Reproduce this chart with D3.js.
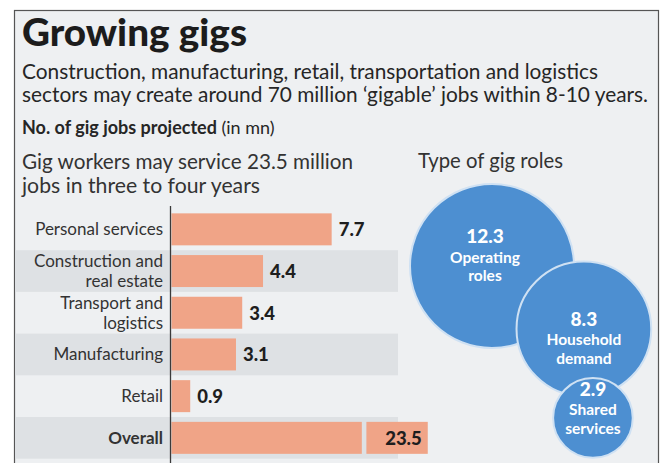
<!DOCTYPE html>
<html>
<head>
<meta charset="utf-8">
<script src="https://cdn.jsdelivr.net/npm/d3@7"></script>
<style>
  body { margin: 0; background: #fff; }
  svg { display: block; font-family: 'Lato', 'Open Sans', sans-serif; }
</style>
</head>
<body>
<svg width="663" height="463"></svg>
<script>
// bar chart data (mn jobs)
const categories = ['Personal services', 'Construction and real estate', 'Transport and logistics', 'Manufacturing', 'Retail', 'Overall'];
const labelLines = [['Personal services'], ['Construction and', 'real estate'], ['Transport and', 'logistics'], ['Manufacturing'], ['Retail'], ['Overall']];
const jobs = [7.7, 4.4, 3.4, 3.1, 0.9, 23.5];

// bubble data (mn jobs)
const roles = ['Operating roles', 'Household demand', 'Shared services'];
const roleLines = [['Operating', 'roles'], ['Household', 'demand'], ['Shared', 'services']];
const roleJobs = [12.3, 8.3, 2.9];

const svg = d3.select('svg');

// frame
svg.append('rect')
    .attr('x', 14.5).attr('y', 10.5)
    .attr('width', 644).attr('height', 480)
    .attr('fill', '#eef0f2')
    .attr('stroke', '#555')
    .attr('stroke-width', 1.2);

// little helper for header text
const addText = (txt, x, y, size, weight, len, anchor) => {
    const t = svg.append('text')
        .attr('x', x).attr('y', y)
        .attr('font-size', size)
        .attr('font-weight', weight)
        .attr('fill', '#262626')
        .attr('text-anchor', anchor || 'start')
        .text(txt);
    if (len) t.attr('textLength', len).attr('lengthAdjust', 'spacingAndGlyphs');
    return t;
}

addText('Growing gigs', 22, 46, 37, 900, 225).attr('fill', '#1c1c1c');
addText('Construction, manufacturing, retail, transportation and logistics', 22, 79, 20.5, 400, 576);
addText('sectors may create around 70 million \u2018gigable\u2019 jobs within 8-10 years.', 22, 102, 20.5, 400, 626);

const sub = addText('No. of gig jobs projected', 22, 134, 18, 700);
sub.append('tspan').attr('font-weight', 400).text(' (in mn)');

addText('Gig workers may service 23.5 million', 22, 169, 20.5, 400, 331).attr('fill', '#333');
addText('jobs in three to four years', 22, 193, 20.5, 400, 238).attr('fill', '#333');
addText('Type of gig roles', 418, 168, 20.5, 400, 145).attr('fill', '#333');

// ---- bars ----
const x = d3.scaleLinear().domain([0, 10]).range([171.5, 379.5]);
const y = d3.scaleBand().domain(categories).range([208.5, 458.7]).paddingInner(0.233).paddingOuter(0.1165);

const rows = categories.map((c, i) => ({ cat: c, lines: labelLines[i], value: jobs[i], i }));

// alternating grey bands
svg.selectAll('.band')
    .data(rows.filter(d => d.i % 2 === 1))
    .enter()
    .append('rect')
        .attr('class', 'band')
        .attr('x', 15)
        .attr('y', d => y(d.cat) - y.step() * y.paddingInner() / 2)
        .attr('width', 383)
        .attr('height', y.step())
        .attr('fill', '#dee1e4');

// Overall does not fit the scale, so it is drawn as a broken bar
const breakAt = 9.15;
const gapUnits = 0.22;
const tailUnits = 2.95;

svg.selectAll('.bar')
    .data(rows)
    .enter()
    .append('rect')
        .attr('class', 'bar')
        .attr('x', x(0))
        .attr('y', d => y(d.cat))
        .attr('width', d => x(Math.min(d.value, breakAt)) - x(0))
        .attr('height', y.bandwidth())
        .attr('fill', '#f0a487');

const overall = rows.filter(d => d.value > breakAt);
svg.selectAll('.tail')
    .data(overall)
    .enter()
    .append('rect')
        .attr('class', 'tail')
        .attr('x', x(breakAt + gapUnits))
        .attr('y', d => y(d.cat))
        .attr('width', x(tailUnits) - x(0))
        .attr('height', y.bandwidth())
        .attr('fill', '#f0a487');

// category labels
const labels = svg.selectAll('.cat')
    .data(rows)
    .enter()
    .append('text')
        .attr('class', 'cat')
        .attr('text-anchor', 'end')
        .attr('font-size', 17)
        .attr('font-weight', d => d.cat === 'Overall' ? 700 : 400)
        .attr('fill', '#333');

labels.selectAll('tspan')
    .data(d => d.lines.map((l, k) => ({ l, k, n: d.lines.length, cy: y(d.cat) + y.bandwidth() / 2 })))
    .enter()
    .append('tspan')
        .attr('x', 163)
        .attr('y', d => d.cy + 6 + (d.k - (d.n - 1) / 2) * 20.5)
        .text(d => d.l);

// value labels
svg.selectAll('.val')
    .data(rows)
    .enter()
    .append('text')
        .attr('class', 'val')
        .attr('x', d => d.value > breakAt ? x(breakAt + gapUnits + tailUnits) - 6 : x(d.value) + 7)
        .attr('y', d => y(d.cat) + y.bandwidth() / 2 + 7)
        .attr('text-anchor', d => d.value > breakAt ? 'end' : 'start')
        .attr('font-size', 18.5)
        .attr('font-weight', 900)
        .attr('fill', '#1e1e1e')
        .text(d => d.value);

// axis line
svg.append('line')
    .attr('x1', 170.5).attr('x2', 170.5)
    .attr('y1', 206).attr('y2', 463)
    .attr('stroke', '#3a3a3a')
    .attr('stroke-width', 1.3);

// ---- bubbles ----
const r = d3.scaleSqrt().domain([0, d3.max(roleJobs)]).range([0, 82]);

// chain layout: each bubble hangs off the previous one at an angle, with some overlap
const anchor = [492, 266];
const links = [{ angle: 34.4, overlap: 38 }, { angle: 84.2, overlap: 17.7 }];
const textShift = [[-7, -23], [0, -3], [0, -22]];

const bubbles = [];
roleJobs.forEach((v, i) => {
    let cx = anchor[0], cy = anchor[1];
    if (i > 0) {
        const prev = bubbles[i - 1];
        const d = prev.r + r(v) - links[i - 1].overlap;
        const a = links[i - 1].angle * Math.PI / 180;
        cx = prev.cx + d * Math.cos(a);
        cy = prev.cy + d * Math.sin(a);
    }
    bubbles.push({ role: roles[i], lines: roleLines[i], value: v, r: r(v), cx, cy, shift: textShift[i] });
});

const bg = svg.selectAll('.bubble')
    .data(bubbles)
    .enter()
    .append('g')
        .attr('class', 'bubble');

bg.append('circle')
    .attr('cx', d => d.cx)
    .attr('cy', d => d.cy)
    .attr('r', d => d.r)
    .attr('fill', '#4d8fd1')
    .attr('stroke', '#cfe1f3')
    .attr('stroke-width', 2);

bg.append('text')
    .attr('x', d => d.cx + d.shift[0])
    .attr('y', d => d.cy + d.shift[1])
    .attr('text-anchor', 'middle')
    .attr('font-size', 19)
    .attr('font-weight', 900)
    .attr('fill', '#fff')
    .text(d => d.value);

bg.each(function(d) {
    d3.select(this).selectAll('.rl')
        .data(d.lines)
        .enter()
        .append('text')
            .attr('class', 'rl')
            .attr('x', d.cx + d.shift[0])
            .attr('y', (l, k) => d.cy + d.shift[1] + 19.5 + k * 18.5)
            .attr('text-anchor', 'middle')
            .attr('font-size', 15.5)
            .attr('font-weight', 700)
            .attr('fill', '#fff')
            .text(l => l);
});
</script>
</body>
</html>
